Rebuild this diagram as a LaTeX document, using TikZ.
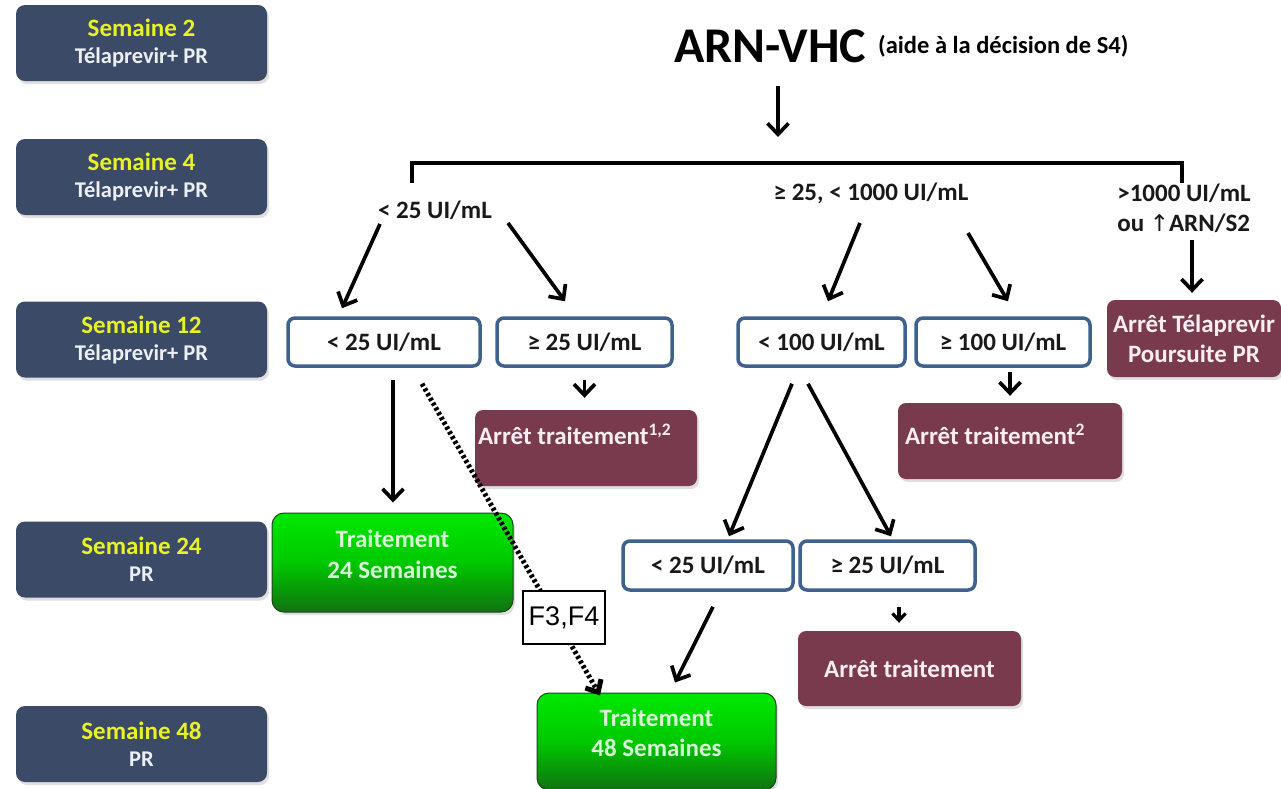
\documentclass[tikz,border=0pt]{standalone}
\usepackage{fontspec}
\setmainfont{Carlito}
\newfontfamily\symfont{DejaVu Sans}
\newfontfamily\arialfont{Liberation Sans}
\usetikzlibrary{arrows.meta,shadows,calc}

\definecolor{navy}{RGB}{59,74,102}
\definecolor{wkyellow}{RGB}{232,242,38}
\definecolor{wktext}{RGB}{236,239,245}
\definecolor{boxblue}{RGB}{62,97,142}
\definecolor{maroon}{RGB}{122,58,78}
\definecolor{maroontext}{RGB}{250,238,242}
\definecolor{gtext}{RGB}{215,248,215}
\definecolor{gborder}{RGB}{25,70,25}
\definecolor{gA}{RGB}{42,78,42}
\definecolor{gB}{RGB}{40,88,40}
\definecolor{gC}{RGB}{14,125,14}
\definecolor{gD}{RGB}{0,200,0}
\definecolor{gE}{RGB}{0,236,0}
\definecolor{gF}{RGB}{0,150,0}
\pgfdeclareverticalshading{greenbtn}{100bp}{color(0bp)=(gA); color(20bp)=(gB); color(28bp)=(gC); color(50bp)=(gD); color(78bp)=(gE); color(94bp)=(gE); color(100bp)=(gF)}

\begin{document}
\begin{tikzpicture}[x=1pt,y=-1pt,
  font=\fontsize{25}{30}\selectfont\bfseries,
  shad/.style={drop shadow={opacity=0.25,shadow xshift=2pt,shadow yshift=-3pt}},
  week/.style={fill=navy, rounded corners=9pt, minimum width=251pt, minimum height=76pt,
    inner sep=0pt, align=center, text=wktext, shad,
    font=\fontsize{22.5}{27}\selectfont\bfseries},
  wbox/.style={draw=boxblue, line width=3.5pt, fill=white, rounded corners=7pt,
    minimum height=48pt, inner sep=0pt, text=black!90},
  mbox/.style={fill=maroon, rounded corners=8pt, minimum height=76pt, text=maroontext,
    inner sep=0pt, shad},
  gbox/.style={shading=greenbtn, draw=gborder, line width=1pt, rounded corners=12pt,
    inner sep=0pt, shad},
  lab/.style={inner sep=0pt, text=black!90},
  arr/.style={line width=3.7pt, -{Straight Barb[length=11pt,width=21pt]}},
  smallarr/.style={line width=3.2pt, -{Straight Barb[length=7pt,width=13pt]}},
  dotarr/.style={line width=5pt, dash pattern=on 3pt off 2.5pt, -{Straight Barb[length=10pt,width=18pt]}},
]
\fill[white] (0,0) rectangle (1281,788);
\useasboundingbox (0,0) rectangle (1281,788);

% week boxes
\node[week] (s2)  at (141.5,43)  {{\fontsize{25}{27}\selectfont\color{wkyellow}Semaine 2}\\Télaprevir+ PR};
\node[week] (s4)  at (141.5,177) {{\fontsize{25}{27}\selectfont\color{wkyellow}Semaine 4}\\Télaprevir+ PR};
\node[week] (s12) at (141.5,339.5) {{\fontsize{25}{27}\selectfont\color{wkyellow}Semaine 12}\\Télaprevir+ PR};
\node[week] (s24) at (141.5,559.5) {{\fontsize{25}{27}\selectfont\color{wkyellow}Semaine 24}\\PR};
\node[week] (s48) at (141.5,744) {{\fontsize{25}{27}\selectfont\color{wkyellow}Semaine 48}\\PR};

% title
\node[anchor=base west, inner sep=0pt, font=\fontsize{50}{52}\selectfont\bfseries] (title) at (674,62) {ARN-VHC};
\node[anchor=base west, inner sep=0pt, font=\fontsize{24.5}{28}\selectfont\bfseries] (sub) at (878,53) {(aide à la décision de S4)};

% bracket
\coordinate (br)  at (778,163);
\coordinate (brL) at (412,163);
\coordinate (brR) at (1182,163);
\draw[arr] ($(title.south -| br)+(0,23)$) -- ($(br)+(0,-26)$);
\draw[line width=4.5pt, line join=miter] ($(brL)+(0,20)$) -- (brL) -- (brR) -- ($(brR)+(0,20)$);

% first level labels
\node[lab] (l1) at (435,210) {< 25 UI/mL};
\node[lab] (l2) at (871,193) {≥ 25, < 1000 UI/mL};
\node[lab, align=left] (l3) at (1184,208) {>1000 UI/mL\\ou {\symfont\mdseries\fontsize{23}{23}\selectfont↑}ARN/S2};

% week 12 boxes
\node[wbox, minimum width=192pt] (w1) at (384,342) {< 25 UI/mL};
\node[wbox, minimum width=175pt] (w2) at (584.5,342) {≥ 25 UI/mL};
\node[wbox, minimum width=167pt] (w3) at (821.5,342) {< 100 UI/mL};
\node[wbox, minimum width=174pt] (w4) at (1003,342) {≥ 100 UI/mL};
\node[mbox, minimum width=174pt, minimum height=77pt, align=center] (ma) at (1194,338.5) {Arrêt Télaprevir\\Poursuite PR};

\draw[arr] ($(l1)+(-55,14)$) -- ($(w1.north)+(-42,-8)$);
\draw[arr] ($(l1)+(73,13)$) -- ($(w2.north)+(-19.5,-15)$);
\draw[arr] ($(l2)+(-11,30)$) -- ($(w3.north)+(6.5,-15)$);
\draw[arr] ($(l2)+(97,40)$) -- ($(w4.north)+(5,-15)$);
\draw[arr] ($(ma.north)+(-2,-60)$) -- ($(ma.north)+(-2,-7)$);

% stop boxes
\node[mbox, minimum width=222pt] (mb) at (586,448) {};
\node[anchor=base west, inner sep=0pt, text=maroontext] (mbt) at ($(mb.north west)+(3,35)$) {Arrêt traitement\textsuperscript{1,2}};
\node[mbox, minimum width=224pt] (mc) at (1010,441) {};
\node[anchor=base west, inner sep=0pt, text=maroontext] (mct) at ($(mc.north west)+(7,42)$) {Arrêt traitement\textsuperscript{2}};

\draw[arr] ($(w2.south)+(0,12)$) -- ($(w2.south |- mb.north)+(0,-12)$);
\draw[arr] ($(mc.north)+(0,-31)$) -- ($(mc.north)+(0,-7)$);

% green 24 weeks
\node[gbox, minimum width=241pt, minimum height=99pt,
  label={[yshift=8pt, text=gtext, align=center, font=\fontsize{25}{31}\selectfont\bfseries]center:Traitement\\24 Semaines}] (g24) at (392.5,562.5) {};
\draw[arr] ($(w1.south)+(9,12)$) -- ($(g24.north)+(0.5,-10)$);

% second level under <100
\node[wbox, minimum width=170pt, minimum height=49pt] (r1) at (708,565.5) {< 25 UI/mL};
\node[wbox, minimum width=175pt, minimum height=49pt] (r2) at (887.5,565.5) {≥ 25 UI/mL};
\draw[arr] ($(w3.south)+(-29.5,16)$) -- ($(r1.north)+(21,-3)$);
\draw[arr] ($(w3.south)+(-13.5,16)$) -- ($(r2.north)+(3.5,-3)$);

\node[mbox, minimum width=223pt, minimum height=75pt] (md) at (909.5,668.5) {Arrêt traitement};
\draw[smallarr] ($(r2.south)+(11.5,15)$) -- ($(md.north)+(-10.5,-8)$);

% green 48 weeks
\node[gbox, minimum width=239pt, minimum height=97pt,
  label={[yshift=8.5pt, text=gtext, align=center, font=\fontsize{25}{30}\selectfont\bfseries]center:Traitement\\48 Semaines}] (g48) at (656.5,741.5) {};
\draw[arr] ($(r1.south)+(5,15)$) -- ($(g48.north)+(18.5,-10)$);

% dotted F3,F4 path
\draw[dotarr] ($(w1.south)+(38,16)$) -- ($(g48.north)+(-56.5,3)$);
\node[draw=black, line width=1.5pt, fill=white, minimum width=82pt, minimum height=53pt, inner sep=0pt,
  font=\arialfont\mdseries\fontsize{27}{30}\selectfont] (f34) at (564,617.5) {F3,F4};
\end{tikzpicture}
\end{document}
